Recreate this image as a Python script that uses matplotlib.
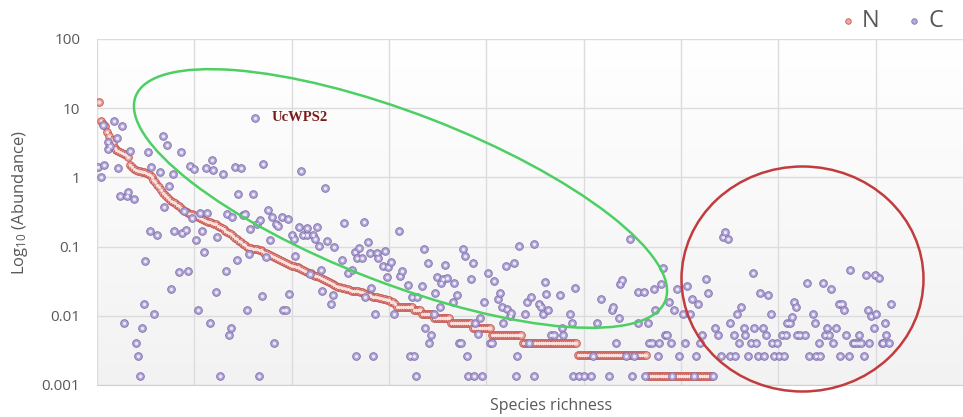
import numpy as np
import matplotlib
matplotlib.use('Agg')
import matplotlib.pyplot as plt
from matplotlib.patches import Ellipse
from matplotlib.ticker import NullLocator, FixedLocator

plt.rcParams['font.family'] = ['Open Sans', 'DejaVu Sans']
plt.rcParams['mathtext.fontset'] = 'custom'
plt.rcParams['mathtext.rm'] = 'Open Sans'
plt.rcParams['mathtext.it'] = 'Open Sans:italic'

# ---------------- data ----------------
series_labels = ['N', 'C']
y_ticks = [0.001, 0.01, 0.1, 1, 10, 100]
y_tick_labels = ['0.001', '0.01', '0.1', '1', '10', '100']
x_label = 'Species richness'
y_label = 'Log$_{10}$ (Abundance)'
note_text = 'UcWPS2'

# N: ranked abundance, first (distinct) part
N_top = [12.2,
         6.5, 6.0, 5.6, 4.5, 3.9, 3.5, 3.1,
         2.7, 2.5, 2.4, 2.35, 2.25, 2.2, 2.1, 2.0,
         1.51, 1.4, 1.32, 1.28, 1.24, 1.22, 1.2, 1.19, 1.17, 1.12, 1.08,
         1.0, 0.92, 0.85, 0.78, 0.72, 0.66, 0.6, 0.56, 0.52, 0.48, 0.46, 0.44, 0.42,
         0.40, 0.38, 0.36, 0.34, 0.33, 0.32, 0.31, 0.30, 0.295, 0.285,
         0.275, 0.27, 0.26, 0.25, 0.24, 0.235, 0.23, 0.225, 0.22, 0.215,
         0.21, 0.2, 0.19, 0.184, 0.178, 0.17, 0.162, 0.156, 0.15, 0.143,
         0.135, 0.128, 0.12, 0.115, 0.11, 0.105, 0.1, 0.096, 0.094, 0.093,
         0.092, 0.091, 0.09, 0.088, 0.085, 0.082, 0.08, 0.078, 0.076, 0.073,
         0.07, 0.068, 0.066, 0.064, 0.062, 0.06, 0.058, 0.056, 0.054, 0.053,
         0.052, 0.051, 0.05, 0.049, 0.047, 0.046, 0.044, 0.043, 0.042, 0.041,
         0.039, 0.038, 0.037, 0.036, 0.035, 0.034, 0.033, 0.032, 0.031, 0.030,
         0.029, 0.028, 0.027, 0.0265, 0.026, 0.0255, 0.025, 0.0245, 0.024, 0.0236,
         0.0232, 0.023, 0.0228, 0.0225, 0.0223, 0.022, 0.0213, 0.0207, 0.0203, 0.02,
         0.0195, 0.019, 0.0187, 0.0185, 0.0183, 0.018, 0.0177, 0.0173, 0.017, 0.0167,
         0.016, 0.016, 0.0147]
# N: tail plateaus (value, number of species at that value)
N_plateau_levels = [0.0133, 0.012, 0.0107, 0.0093, 0.008, 0.0067, 0.0053, 0.004, 0.00267, 0.00133]
N_plateau_counts = [9, 4, 6, 9, 11, 10, 16, 28, 36, 34]

# C: species position and abundance
C_rank = [0.7, 2, 3, 3.8, 5.5, 5.8, 6.7, 8.9, 10.1, 11,
          11.8, 12.7, 14, 15.3, 16.1, 17, 19, 20, 20.9, 22.1,
          23, 24.2, 24.7, 26, 27.2, 27.8, 29.1, 31, 32.4, 34.1,
          34.6, 35.8, 37, 38, 38.9, 39.7, 42.1, 43, 43.9, 44.9,
          45.7, 46.9, 47.8, 49, 49.9, 51, 51.9, 53, 54.1, 54.8,
          55.9, 56.7, 57.9, 59.3, 59.8, 61, 61.8, 63.2, 64.9, 66.1,
          66.7, 67.9, 68.7, 69.6, 70.9, 71.8, 72.6, 73.9, 75.2, 76,
          77, 78, 78.6, 80, 81, 82, 83, 83.8, 85, 85.5,
          86.9, 88, 88.9, 89.8, 91, 92, 93, 94.9, 95.8, 97,
          98, 98.8, 100, 101, 101.8, 104, 105, 106, 107.8, 108,
          109.5, 110.9, 112, 113, 114, 115, 115.8, 117, 118, 120,
          121, 122, 126, 127, 128.7, 131, 132.6, 132.8, 133.5, 134.8,
          136, 137, 137.8, 139, 140, 140.7, 142, 142.9, 144, 144.6,
          146.8, 148, 149, 149.5, 151, 152.7, 154.9, 155.7, 156.6, 159.7,
          160.9, 161.8, 163, 164, 164.6, 166.9, 168, 168.6, 169.8, 170.8,
          171.5, 172.9, 173.7, 174.6, 176, 176.8, 177.5, 178.9, 179.7, 183,
          183.6, 184.9, 186, 187, 188, 188.8, 190, 190.8, 192, 193,
          193.9, 194.3, 195.7, 196.9, 198, 199, 200.8, 202, 202.9, 204,
          205.8, 207, 208, 208.8, 210, 210.5, 212.3, 212.8, 214, 215,
          215.7, 217, 220, 221, 221.7, 223, 224.6, 224.6, 226.8, 228,
          229, 230, 230.8, 231.9, 233, 235, 237.6, 238.8, 239.6, 242.8,
          244, 244.5, 245.7, 247.4, 250, 254, 255, 256.8, 259, 262.8,
          264.5, 265, 266.8, 268, 268.8, 269.7, 271.9, 273.6, 274.8, 276,
          277.9, 278, 281, 281.6, 282.9, 283.4, 285, 286, 286.8, 288,
          288.5, 289.9, 291, 292, 292.8, 293.6, 294.8, 295.5, 296.6, 298,
          299, 300.8, 301.9, 303, 304.8, 305.7, 306.8, 307.9, 308.8, 309.9,
          310.8, 313, 313.9, 316.6, 317.6, 318.8, 320.3, 321.6, 322.4, 324,
          325, 325.4, 327, 327.6, 328.8, 330, 330.8, 332.2, 332.7, 334.4,
          335.9, 337, 337.7, 338.7, 339.5, 340.8, 342, 342.4, 343.7, 344.7,
          346, 346.8, 348, 349.3, 350.2, 351.9, 352.8, 354, 354.5, 356.2,
          357, 357.8, 359, 359.6, 361.3, 363.9, 364.8, 365.6, 367.9, 369,
          369.5, 371, 371.6, 373, 373.8, 375, 375.8, 376.8, 378, 379.8,
          381, 381.9, 382.7, 383.6, 384.9, 386.2, 387, 388.2, 389.6, 391,
          391.2, 392.7, 393.8, 394.8, 396, 396.5, 397.8, 399, 399.9, 400.4,
          401.6, 403, 404, 405, 405.5, 406.7, 408]
C_abund = [1.43, 1.0, 5.8, 1.5, 2.55, 3.3, 2.8, 6.5, 3.75, 1.38,
           0.54, 5.6, 0.008, 0.54, 0.62, 2.4, 0.49, 0.004, 0.0026, 0.00133,
           0.0066, 0.0147, 0.062, 2.35, 0.17, 1.43, 0.0106, 0.147, 1.21, 3.9,
           0.37, 2.9, 0.75, 0.024, 1.12, 0.168, 0.043, 2.3, 0.155, 0.33,
           0.175, 0.044, 1.45, 0.26, 1.32, 0.124, 0.0121, 0.31, 0.17, 0.083,
           1.38, 0.31, 0.008, 1.78, 1.28, 0.022, 0.136, 0.00133, 1.12, 0.044,
           0.30, 0.0053, 0.0067, 0.27, 1.4, 0.065, 0.58, 1.38, 0.29, 0.30,
           0.0121, 0.078, 0.18, 0.57, 7.3, 0.21, 0.00133, 0.24, 0.0195, 1.55,
           0.071, 0.34, 0.124, 0.27, 0.004, 0.21, 0.20, 0.27, 0.0121, 0.0121,
           0.25, 0.021, 0.147, 0.13, 0.073, 0.19, 1.24, 0.147, 0.145, 0.185,
           0.040, 0.147, 0.13, 0.195, 0.103, 0.046, 0.023, 0.70, 0.12, 0.0147,
           0.02, 0.098, 0.064, 0.22, 0.042, 0.046, 0.083, 0.0026, 0.069, 0.096,
           0.068, 0.224, 0.0189, 0.118, 0.082, 0.0255, 0.0026, 0.0106, 0.08, 0.068,
           0.053, 0.085, 0.036, 0.050, 0.059, 0.0106, 0.17, 0.038, 0.045, 0.028,
           0.0026, 0.0189, 0.0026, 0.00133, 0.0189, 0.027, 0.092, 0.0067, 0.058, 0.004,
           0.0053, 0.0106, 0.0216, 0.036, 0.0133, 0.030, 0.034, 0.054, 0.035, 0.016,
           0.030, 0.02, 0.004, 0.004, 0.092, 0.073, 0.0026, 0.00133, 0.034, 0.058,
           0.00133, 0.0078, 0.0054, 0.0094, 0.00133, 0.016, 0.041, 0.004, 0.004, 0.032,
           0.0173, 0.0216, 0.0135, 0.0078, 0.052, 0.0124, 0.0098, 0.0109, 0.058, 0.00133,
           0.0026, 0.103, 0.0106, 0.016, 0.004, 0.0189, 0.109, 0.00133, 0.0147, 0.0135,
           0.0106, 0.0305, 0.021, 0.0121, 0.0053, 0.0053, 0.02, 0.0067, 0.0053, 0.0106,
           0.0079, 0.00133, 0.0255, 0.00133, 0.00133, 0.00133, 0.0026, 0.0079, 0.0173, 0.00133,
           0.0121, 0.0135, 0.004, 0.0094, 0.0285, 0.033, 0.0026, 0.127, 0.00133, 0.0026,
           0.0079, 0.022, 0.022, 0.00133, 0.0079, 0.004, 0.004, 0.024, 0.0121, 0.0026,
           0.004, 0.0285, 0.0485, 0.0053, 0.0053, 0.016, 0.004, 0.00133, 0.0121, 0.024,
           0.0026, 0.0106, 0.004, 0.027, 0.0106, 0.0173, 0.00133, 0.0026, 0.0147, 0.004,
           0.0053, 0.0337, 0.0216, 0.00133, 0.0067, 0.0053, 0.0026, 0.139, 0.161, 0.127,
           0.0079, 0.0026, 0.0053, 0.0026, 0.0106, 0.004, 0.0133, 0.0067, 0.0053, 0.0026,
           0.004, 0.041, 0.0067, 0.004, 0.0026, 0.0216, 0.0067, 0.0026, 0.0053, 0.02,
           0.0106, 0.004, 0.0026, 0.004, 0.0026, 0.0053, 0.0026, 0.0053, 0.0079, 0.0079,
           0.0095, 0.016, 0.0135, 0.0053, 0.0053, 0.0053, 0.030, 0.0026, 0.0106, 0.0079,
           0.0026, 0.004, 0.0026, 0.030, 0.0053, 0.0067, 0.0053, 0.024, 0.004, 0.0067,
           0.0147, 0.0026, 0.0147, 0.0121, 0.0053, 0.0026, 0.046, 0.004, 0.004, 0.004,
           0.0053, 0.004, 0.0026, 0.039, 0.0121, 0.004, 0.0098, 0.0067, 0.039, 0.0106,
           0.035, 0.004, 0.004, 0.0079, 0.0053, 0.004, 0.0147]

# ---------------- build ----------------
N_abund = np.concatenate([np.array(N_top), np.repeat(N_plateau_levels, N_plateau_counts)])
N_rank = np.arange(1, len(N_abund) + 1)
n_c = min(len(C_rank), len(C_abund))
C_x = np.array(C_rank[:n_c])
C_y = np.array(C_abund[:n_c])

W, H = 963, 417
fig = plt.figure(figsize=(W / 100, H / 100), dpi=100)
fig.patch.set_facecolor('white')
ax = fig.add_axes([97 / W, 32 / H, 876 / W, 346 / H])
ax.set_yscale('log')
ax.set_xlim(0, 450)
ax.set_ylim(0.001, 100)

# subtle gradient background
grad = np.linspace(1.0, 0.95, 256).reshape(-1, 1)
img = np.dstack([grad, grad, grad])
ax.imshow(img, extent=[0, 1, 0, 1], transform=ax.transAxes, aspect='auto', zorder=0)

ax.xaxis.set_major_locator(FixedLocator(np.arange(0, 451, 50)))
ax.yaxis.set_major_locator(FixedLocator(y_ticks))
ax.yaxis.set_minor_locator(NullLocator())
ax.xaxis.set_minor_locator(NullLocator())
ax.set_yticklabels(y_tick_labels)
ax.set_xticklabels([])
ax.grid(True, color='#dcdcdc', lw=1.0, zorder=1)
ax.set_axisbelow(True)
ax.tick_params(length=0, labelsize=11, labelcolor='#595959', pad=12)
for s in ['top', 'right', 'left']:
    ax.spines[s].set_visible(False)
ax.spines['bottom'].set_color('#d0d0d0')

ax.scatter(N_rank, N_abund, s=30, c='#eaa8a0', edgecolors='#c65a55', linewidths=0.7, zorder=3)
ax.scatter(N_rank, N_abund, s=5, c='#fbe2de', linewidths=0, zorder=3.1)
ax.scatter(C_x, C_y, s=30, c='#b3a8d8', edgecolors='#8575b0', linewidths=0.7, zorder=4)
ax.scatter(C_x, C_y, s=5, c='#eeeaf9', linewidths=0, zorder=4.1)

# overlay in pixel coordinates for annotations
ov = fig.add_axes([0, 0, 1, 1], zorder=5)
ov.set_xlim(0, W)
ov.set_ylim(H, 0)
ov.axis('off')
ov.patch.set_alpha(0)

ov.add_patch(Ellipse((400.5, 198.5), 567.7, 170, angle=21.1, fill=False,
                     ec='#4ccf63', lw=1.8))
ov.add_patch(Ellipse((802.5, 279), 242, 225, fill=False, ec='#c23b3d', lw=1.8))
ov.text(272, 117, note_text, family='Liberation Serif', weight='bold', fontsize=10.5,
        color='#7b1c1c', ha='left', va='center')

# legend
ov.plot([847.7], [20.7], marker='o', ms=4, mfc='#eaa8a0', mec='#c65a55', mew=0.6, ls='none')
ov.text(862, 21, series_labels[0], fontsize=17, color='#595959', ha='left', va='center')
ov.plot([914], [20.7], marker='o', ms=4, mfc='#b3a8d8', mec='#8575b0', mew=0.6, ls='none')
ov.text(928, 21, series_labels[1], fontsize=17, color='#595959', ha='left', va='center')

ov.text(551, 406, x_label, fontsize=11.5, color='#595959', ha='center', va='center')
ov.text(20, 202, y_label, fontsize=12, color='#595959', ha='center', va='center', rotation=90)

fig.savefig('out.png', dpi=100)
